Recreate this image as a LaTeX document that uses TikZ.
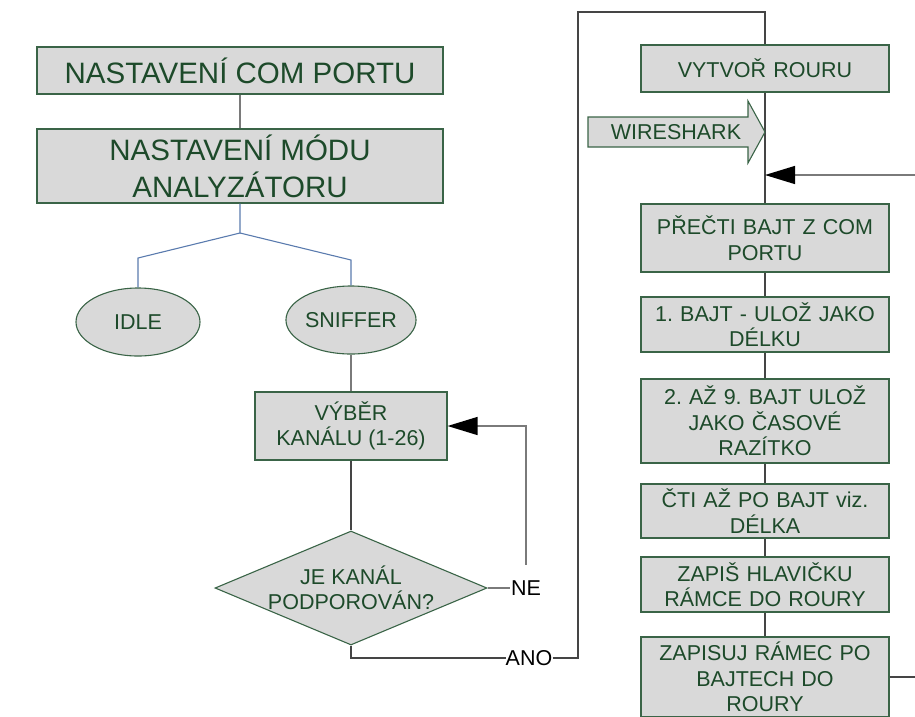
\documentclass[tikz,border=0pt]{standalone}
\usepackage{fontspec}
\setmainfont{Liberation Sans}
\usetikzlibrary{shapes.geometric,arrows.meta}
\definecolor{boxfill}{HTML}{D9D9D9}
\definecolor{boxline}{HTML}{3A6447}
\definecolor{boxtext}{HTML}{1D4A2A}
\definecolor{wire}{HTML}{454545}
\definecolor{wirelight}{HTML}{7A7A7A}
\definecolor{branch}{HTML}{5A7BAE}
\frenchspacing
\tikzset{
  box/.style={draw=boxline, fill=boxfill, line width=1.1pt, inner sep=0pt,
    text=boxtext, align=center, font=\fontsize{21.5}{25.5}\selectfont},
  bigbox/.style={box, minimum width=406, font=\fontsize{29.5}{37}\selectfont},
  colbox/.style={box, minimum width=248, text width=240},
  oval/.style={ellipse, draw=boxline, fill=boxfill, line width=1.1pt, inner sep=0pt,
    text=boxtext, font=\fontsize{21.5}{26}\selectfont},
  wireline/.style={draw=wire, line width=1.3pt},
  lightline/.style={draw=wirelight, line width=1.3pt},
  branchline/.style={draw=branch, line width=1.1pt},
  bigtip/.style={-{Triangle[length=30,width=18,color=black]}},
  label/.style={inner sep=0pt, font=\fontsize{21.5}{26}\selectfont, text=black}
}
\begin{document}
\begin{tikzpicture}[x=1pt,y=-1pt]
\useasboundingbox (0,0) rectangle (915,716);

% left branch: setup
\node[bigbox, minimum height=47] (com) at (240,70.5) {NASTAVENÍ COM PORTU};
\node[bigbox, minimum height=74] (mod) at (240,166) {NASTAVENÍ MÓDU\\ANALYZÁTORU};
\node[oval, minimum width=124, minimum height=68] (idle) at (138,322) {IDLE};
\node[oval, minimum width=130, minimum height=68] (sniff) at (351,320) {SNIFFER};
\node[box, minimum width=192, minimum height=68] (vyber) at (351,426) {VÝBĚR\\KANÁLU (1-26)};
\node[diamond, draw=boxline, fill=boxfill, line width=1.1pt, inner sep=0pt,
      minimum width=272, minimum height=114] (dia) at (351,588) {};
\node[box, draw=none, fill=none] (diatext) at (dia.center) {JE KANÁL\\PODPOROVÁN?};
\node[label, minimum height=46, inner xsep=0.5pt] (ne) at (526,588) {NE};
\node[label] (ano) at (529,658) {ANO};

% right column: pipe handling
\node[colbox, minimum height=47] (vytvor) at (765,68.5) {VYTVOŘ ROURU};
\node[colbox, minimum height=68] (precti) at (765,238) {PŘEČTI BAJT Z COM\\PORTU};
\node[colbox, minimum height=55] (bajt1) at (765,324.5) {1. BAJT - ULOŽ JAKO\\DÉLKU};
\node[colbox, minimum height=84] (bajt2) at (765,421) {2. AŽ 9. BAJT ULOŽ\\JAKO ČASOVÉ\\RAZÍTKO};
\node[colbox, minimum height=54] (cti) at (765,511) {ČTI AŽ PO BAJT viz.\\DÉLKA};
\node[colbox, minimum height=55] (zapis) at (765,584.5) {ZAPIŠ HLAVIČKU\\RÁMCE DO ROURY};
\node[colbox, minimum height=80] (zapisuj) at (765,677) {ZAPISUJ RÁMEC PO\\BAJTECH DO\\ROURY};

% connectors of the setup part
\draw[lightline] (com) -- (mod);
\coordinate (split) at (240,233);
\draw[branchline] (mod.south) -- (split) -- (138,258) -- (idle.north);
\draw[branchline] (split) -- (351,260) -- (sniff.north);
\draw[lightline] (sniff) -- (vyber);
\draw[wireline] (vyber) -- (dia);
\draw[lightline] (dia.east) -- (ne.west);
\draw[lightline, bigtip] (ne.north) |- (vyber.east);
\draw[wireline] (dia.south) |- (ano.west);

% jump to the right column
\coordinate (topleft) at (578,12);
\coordinate (topright) at (765,12);
\draw[wireline] (ano.east) -| (topleft) -- (topright) -- (vytvor.north);

% main column line
\draw[wireline] (vytvor) -- (precti);
\draw[wireline] (precti) -- (bajt1);
\draw[wireline] (bajt1) -- (bajt2);
\draw[wireline] (bajt2) -- (cti);
\draw[wireline] (cti) -- (zapis);
\draw[wireline] (zapis) -- (zapisuj);

% loop back after each frame
\coordinate (loop) at (765,175);
\coordinate (outer) at (930,175);
\draw[wireline] (zapisuj.east) -- (930,677);
\draw[lightline, bigtip] (930,677) -- (outer) -- (loop);

% WIRESHARK block arrow into the pipe
\path[draw=boxline, fill=boxfill, line width=1.1pt]
  (588,117) -- (748,117) -- (748,101) -- (765,132) -- (748,163) -- (748,147) -- (588,147) -- cycle;
\node[box, draw=none, fill=none] (wshark) at (676,132) {WIRESHARK};
\end{tikzpicture}
\end{document}
